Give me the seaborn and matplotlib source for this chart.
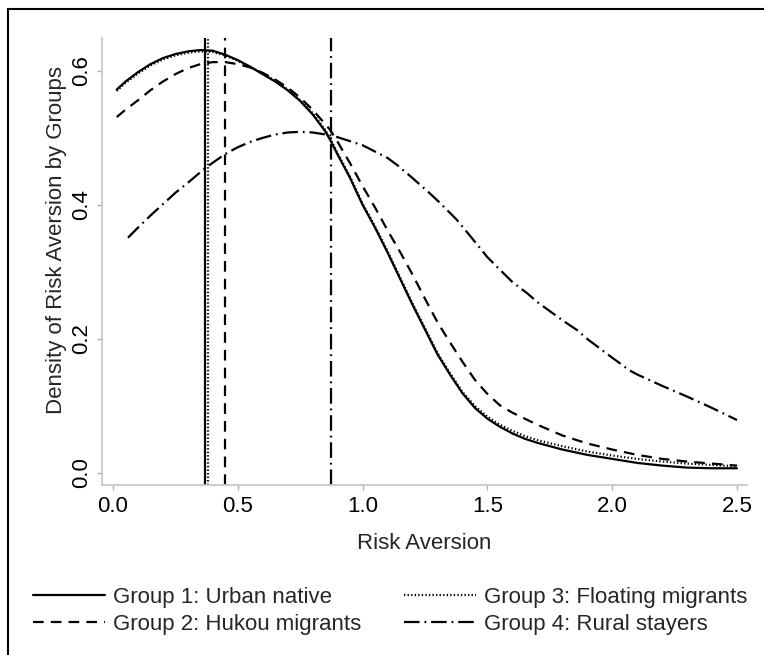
import numpy as np
import pandas as pd
import matplotlib
matplotlib.use("Agg")
import matplotlib.pyplot as plt
import seaborn as sns
from matplotlib.patches import Rectangle

# ---- data ----
x_g1 = [0.015, 0.05, 0.1, 0.15, 0.2, 0.25, 0.3, 0.35, 0.4, 0.45, 0.5, 0.55, 0.6, 0.65,
        0.7, 0.75, 0.8, 0.85, 0.87, 0.9, 0.95, 1.0, 1.05, 1.1, 1.15, 1.2, 1.25, 1.3, 1.35,
        1.4, 1.45, 1.5, 1.55, 1.6, 1.65, 1.7, 1.8, 1.9, 2.0, 2.1, 2.2, 2.3, 2.4, 2.5]
y_g1 = [0.572, 0.584, 0.598, 0.610, 0.619, 0.625, 0.629, 0.631, 0.630, 0.624, 0.616, 0.606,
        0.595, 0.584, 0.571, 0.555, 0.535, 0.510, 0.497, 0.475, 0.440, 0.400, 0.366, 0.329,
        0.290, 0.251, 0.214, 0.177, 0.147, 0.119, 0.097, 0.081, 0.069, 0.059, 0.051, 0.045,
        0.035, 0.027, 0.021, 0.015, 0.011, 0.008, 0.007, 0.007]

x_g2 = [0.015, 0.05, 0.1, 0.15, 0.2, 0.25, 0.3, 0.35, 0.4, 0.45, 0.5, 0.55, 0.6, 0.65,
        0.7, 0.75, 0.8, 0.87, 0.9, 0.95, 1.0, 1.05, 1.1, 1.15, 1.2, 1.25, 1.3, 1.35, 1.4,
        1.45, 1.5, 1.55, 1.6, 1.65, 1.7, 1.8, 1.9, 2.0, 2.1, 2.2, 2.3, 2.4, 2.5]
y_g2 = [0.531, 0.542, 0.556, 0.571, 0.584, 0.595, 0.604, 0.610, 0.613, 0.613, 0.610, 0.605,
        0.597, 0.587, 0.575, 0.560, 0.542, 0.512, 0.494, 0.462, 0.428, 0.396, 0.362, 0.330,
        0.296, 0.260, 0.225, 0.195, 0.166, 0.139, 0.118, 0.101, 0.090, 0.081, 0.072, 0.056,
        0.044, 0.035, 0.027, 0.021, 0.017, 0.014, 0.011]

x_g3 = [0.015, 0.05, 0.1, 0.15, 0.2, 0.25, 0.3, 0.35, 0.4, 0.45, 0.5, 0.55, 0.6, 0.65,
        0.7, 0.75, 0.8, 0.85, 0.87, 0.9, 0.95, 1.0, 1.05, 1.1, 1.15, 1.2, 1.25, 1.3, 1.35,
        1.4, 1.45, 1.5, 1.55, 1.6, 1.65, 1.7, 1.8, 1.9, 2.0, 2.1, 2.2, 2.3, 2.4, 2.5]
y_g3 = [0.570, 0.582, 0.596, 0.608, 0.617, 0.623, 0.627, 0.629, 0.628, 0.623, 0.615, 0.606,
        0.596, 0.585, 0.572, 0.556, 0.537, 0.512, 0.499, 0.477, 0.442, 0.402, 0.368, 0.331,
        0.292, 0.253, 0.216, 0.179, 0.149, 0.121, 0.100, 0.084, 0.072, 0.063, 0.055, 0.049,
        0.040, 0.032, 0.026, 0.021, 0.017, 0.014, 0.012, 0.010]

x_g4 = [0.06, 0.1, 0.15, 0.2, 0.25, 0.3, 0.37, 0.45, 0.5, 0.55, 0.6, 0.65, 0.7, 0.75, 0.8,
        0.87, 0.9, 1.0, 1.1, 1.14, 1.2, 1.27, 1.31, 1.377, 1.45, 1.5, 1.54, 1.6, 1.66, 1.7,
        1.8, 1.86, 1.9, 2.0, 2.07, 2.1, 2.2, 2.3, 2.4, 2.5]
y_g4 = [0.351, 0.366, 0.384, 0.401, 0.418, 0.433, 0.455, 0.476, 0.486, 0.494, 0.500, 0.505,
        0.508, 0.509, 0.508, 0.504, 0.501, 0.489, 0.470, 0.459, 0.440, 0.417, 0.403, 0.378,
        0.345, 0.322, 0.307, 0.285, 0.268, 0.255, 0.228, 0.213, 0.200, 0.172, 0.153, 0.147,
        0.130, 0.114, 0.097, 0.079]

group_names = ["Group 1: Urban native", "Group 2: Hukou migrants",
               "Group 3: Floating migrants", "Group 4: Rural stayers"]
group_means = [0.369, 0.449, 0.381, 0.873]   # vertical reference lines

x_ticks = [0.0, 0.5, 1.0, 1.5, 2.0, 2.5]
y_ticks = [0.0, 0.2, 0.4, 0.6]

# Stata-like patterns: solid, dash, dot, dash-dot
styles = [
    "-",
    (0, (4.8, 3.2)),
    (0, (0.6, 1.0)),
    (0, (7.0, 2.2, 0.8, 2.2)),
]

sns.set_theme(style="white")
plt.rcParams["font.family"] = ["Liberation Sans", "DejaVu Sans"]
FS = 16

fig = plt.figure(figsize=(7.64, 6.55), dpi=100)
ax = fig.add_axes([0.1335, 0.2595, 0.8442, 0.6825])

series = [(x_g1, y_g1), (x_g2, y_g2), (x_g3, y_g3), (x_g4, y_g4)]
handles = []
for (xs, ys), name, ls in zip(series, group_names, styles):
    df = pd.DataFrame({"x": xs, "y": ys})
    sns.lineplot(data=df, x="x", y="y", ax=ax, color="black", linewidth=1.6,
                 linestyle=ls, label=name, legend=False)
    handles.append(ax.lines[-1])

for m, ls in zip(group_means, styles):
    ax.axvline(m, color="black", linewidth=1.6, linestyle=ls)

ax.set_xlim(-0.044, 2.54)
ax.set_ylim(-0.018, 0.649)
ax.set_xticks(x_ticks)
ax.set_xticklabels([f"{v:.1f}" for v in x_ticks])
ax.set_yticks(y_ticks)
ax.set_yticklabels([f"{v:.1f}" for v in y_ticks], rotation=90, va="center")

for s in ["top", "right"]:
    ax.spines[s].set_visible(False)
for s in ["left", "bottom"]:
    ax.spines[s].set_color("#c8c8c8")
    ax.spines[s].set_linewidth(1.3)

ax.tick_params(axis="both", which="major", direction="out", length=3.6, width=1.0,
               color="#b0b0b0", labelsize=FS, labelcolor="black",
               left=True, bottom=True)
ax.tick_params(axis="x", pad=4.5)
ax.tick_params(axis="y", pad=3.5)

ax.set_xlabel("Risk Aversion", fontsize=FS)
ax.set_ylabel("Density of Risk Aversion by Groups", fontsize=FS)
ax.xaxis.set_label_coords(0.5, -0.108)
ax.yaxis.set_label_coords(-0.054, 0.548)

fig.legend(handles=handles, labels=group_names, ncol=2, frameon=False,
           loc="center left", bbox_to_anchor=(33 / 764, 1 - 611 / 655),
           fontsize=FS, handlelength=3.25, handletextpad=0.36, columnspacing=1.9,
           labelspacing=0.27, borderpad=0, borderaxespad=0)

# outer graph border as in the original export
fig.add_artist(Rectangle((8 / 764, -0.2), 1.2, 1.2 - 9 / 655, transform=fig.transFigure,
                         fill=False, edgecolor="black", linewidth=1.5))

fig.savefig("out.png", dpi=100)
